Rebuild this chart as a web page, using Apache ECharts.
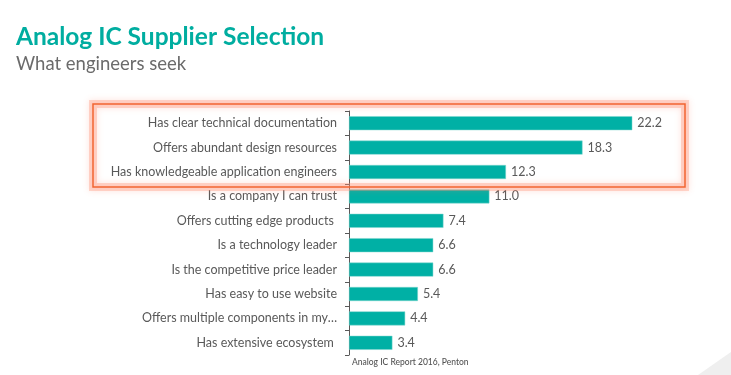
<!DOCTYPE html>
<html>
<head>
<meta charset="utf-8">
<script src="https://cdn.jsdelivr.net/npm/echarts@6/dist/echarts.min.js"></script>
<style>html,body{margin:0;padding:0;background:#fff;}#c{width:731px;height:375px;}</style>
</head>
<body>
<div id="c"></div>
<script>
var categories = [
  "Has clear technical documentation",
  "Offers abundant design resources",
  "Has knowledgeable application engineers",
  "Is a company I can trust",
  "Offers cutting edge products ",
  "Is a technology leader",
  "Is the competitive price leader",
  "Has easy to use website",
  "Offers multiple components in my\u2026",
  "Has extensive ecosystem "
];
var values = [22.2, 18.3, 12.3, 11.0, 7.4, 6.6, 6.6, 5.4, 4.4, 3.4];

var chart = echarts.init(document.getElementById('c'), null, {renderer: 'canvas'});
chart.setOption({
  backgroundColor: '#ffffff',
  animation: false,
  title: [
    {text: 'Analog IC Supplier Selection', left: 11, top: 20,
     textStyle: {fontFamily: 'Lato', fontWeight: 'bold', fontSize: 24.5, color: '#00ADA0'}},
    {text: 'What engineers seek', left: 11, top: 50,
     textStyle: {fontFamily: 'Lato', fontWeight: 'normal', fontSize: 18.5, color: '#6b6b6b'}}
  ],
  grid: {left: 349, top: 111, right: 63, bottom: 20, containLabel: false},
  xAxis: {type: 'value', min: 0, max: 25, show: false},
  yAxis: {
    type: 'category', data: categories, inverse: true,
    axisLine: {show: true, lineStyle: {color: '#595959', width: 1}},
    axisTick: {show: true, length: 4, lineStyle: {color: '#595959'}},
    axisLabel: {margin: 12, color: '#595959', fontFamily: 'Lato', fontSize: 12.5}
  },
  series: [{
    type: 'bar', data: values, barWidth: 14,
    itemStyle: {color: '#00B0A5', borderColor: '#7fd6cf', borderWidth: 0.5},
    label: {show: true, position: 'right', distance: 5, color: '#595959', fontFamily: 'Lato', fontSize: 12.5,
      formatter: function (p) { return p.value.toFixed(1); }}
  }],
  graphic: [
    {type: 'rect', shape: {x: 93, y: 104, width: 592, height: 83},
     style: {fill: 'none', stroke: 'rgba(255,150,120,0.35)', lineWidth: 8, shadowColor: 'rgba(255,120,90,0.6)', shadowBlur: 6}, z: 9},
    {type: 'rect', shape: {x: 93, y: 104, width: 592, height: 83},
     style: {fill: 'none', stroke: '#F26532', lineWidth: 1.5}, z: 10},
    {type: 'text', left: 352, top: 358,
     style: {text: 'Analog IC Report 2016, Penton', fill: '#555555', font: '500 8.5px Lato'}},
    {type: 'polygon', shape: {points: [[698, 375], [731, 352], [731, 375]]},
     style: {fill: '#efefef'}, z: -1}
  ]
});
</script>
</body>
</html>
